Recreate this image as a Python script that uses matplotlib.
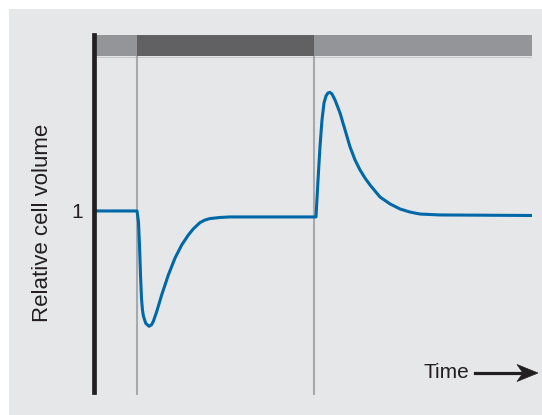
import matplotlib
matplotlib.use("Agg")
import matplotlib.pyplot as plt
from matplotlib.patches import Rectangle, Polygon

plt.rcParams['font.family'] = ['Liberation Sans', 'DejaVu Sans']

# ---- data (time in arbitrary units, relative volume) ----
time = [0.5, 9.92, 10.26, 10.49, 10.72, 10.95, 11.17, 11.40, 11.90, 12.66, 13.23,
        13.64, 14.41, 15.55, 17.06, 18.59, 20.11, 21.62, 22.76, 24.29, 25.43,
        26.57, 28.85, 31.13, 50.74, 51.20, 51.65, 52.11, 52.57, 53.02, 53.48,
        53.93, 54.39, 55.08, 56.22, 57.36, 58.50, 59.64, 60.77, 61.91, 63.05,
        65.34, 67.62, 69.90, 72.18, 74.46, 79.02, 100.0]
volume = [1.000, 1.000, 0.939, 0.812, 0.646, 0.515, 0.452, 0.418, 0.380, 0.363, 0.371,
          0.390, 0.444, 0.536, 0.646, 0.740, 0.812, 0.867, 0.901, 0.936, 0.950,
          0.958, 0.964, 0.967, 0.967, 1.171, 1.354, 1.503, 1.597, 1.635, 1.652,
          1.655, 1.646, 1.613, 1.541, 1.448, 1.354, 1.282, 1.227, 1.182, 1.144,
          1.077, 1.039, 1.011, 0.994, 0.983, 0.978, 0.975]

# condition bars on top
bar_starts = [0, 9.92, 50.3]
bar_ends = [9.92, 50.3, 100]
bar_colors = ['#939598', '#616163', '#939598']
event_times = [9.92, 50.3]
ytick_vals = [1]
ytick_labels = ['1']

W, H = 542, 415
fig = plt.figure(figsize=(W / 100, H / 100), dpi=100, facecolor='white')
fig.patches.append(Rectangle((9 / W, 0), (W - 9) / W, (H - 9) / H,
                             transform=fig.transFigure, facecolor='#e6e7e8',
                             edgecolor='none', zorder=-10))

# axes box in pixels: left 93.5, right 532, top 35, bottom 395
ax = fig.add_axes([93.5 / W, (H - 395) / H, (532 - 93.5) / W, (395 - 35) / H])
ax.set_facecolor('none')
ax.set_xlim(0, 100)
ax.set_ylim(-0.0166, 1.972)

bar_bottom = 1.856
bar_top = 1.972
for s, e, c in zip(bar_starts, bar_ends, bar_colors):
    ax.fill_between([s, e], bar_bottom, bar_top, color=c, linewidth=0, zorder=2)
ax.plot([0.3, 100], [bar_bottom - 0.006, bar_bottom - 0.006], color='#c8c9cb', lw=0.8, zorder=1)

for et in event_times:
    ax.plot([et, et], [-0.0166, bar_bottom], color='#a7a9ac', lw=1.5, zorder=1)

ax.plot(time, volume, color='#0068a9', lw=2.2, solid_joinstyle='round', zorder=3)

for sp in ['top', 'right', 'bottom']:
    ax.spines[sp].set_visible(False)
ax.spines['left'].set_color('#231f20')
ax.spines['left'].set_linewidth(3.4)
ax.spines['left'].set_bounds(0, 1.972)
ax.spines['left'].set_zorder(4)
ax.set_xticks([])
ax.set_yticks(ytick_vals)
ax.set_yticklabels(ytick_labels, fontsize=15, color='#231f20')
ax.tick_params(axis='y', length=0, pad=7.5)

fig.text(43 / W, 1 - 222.5 / H, 'Relative cell volume', rotation=90,
         ha='center', va='center', fontsize=16, color='#231f20')
fig.text(446 / W, 1 - 372 / H, 'Time', ha='center', va='center',
         fontsize=15, color='#231f20')

# "Time" arrow (decoration, figure pixels)
ay = H - 373
fig.lines.append(plt.Line2D([475 / W, 524 / W], [ay / H, ay / H],
                            transform=fig.transFigure, color='#231f20', lw=2.3))
head = Polygon([(538 / W, ay / H), (517 / W, (ay + 8.5) / H), (523 / W, ay / H),
                (517 / W, (ay - 8.5) / H)], closed=True, transform=fig.transFigure,
               facecolor='#231f20', edgecolor='#231f20', lw=0.5)
fig.patches.append(head)

fig.savefig('out.png', dpi=100, facecolor='white')
